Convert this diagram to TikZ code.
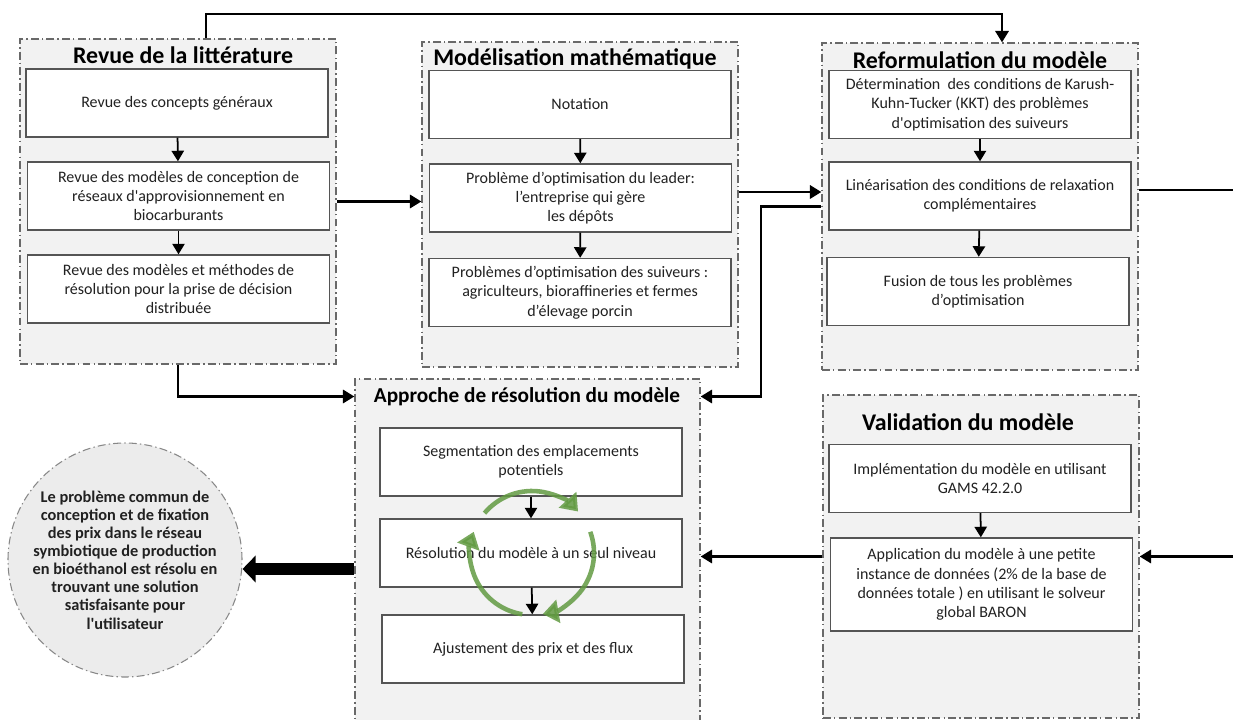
\documentclass[tikz,border=0pt]{standalone}
\usepackage{fontspec}
\setmainfont{Carlito}[Ligatures=TeXOff]
\usetikzlibrary{arrows.meta, positioning, calc}
\definecolor{panelgray}{RGB}{242,242,242}
\definecolor{circgray}{RGB}{236,236,236}
\definecolor{edgegray}{RGB}{105,105,105}
\definecolor{boxedge}{RGB}{85,85,85}
\definecolor{cyclegreen}{RGB}{98,155,66}

\begin{document}
\begin{tikzpicture}[
        every node/.style={font=\fontsize{9.1}{11}\selectfont, text=black!87},
        panel/.style={draw=edgegray, fill=panelgray, line width=0.7pt, dash pattern=on 4.5pt off 1.8pt on 0.8pt off 1.8pt, minimum width=6.32cm, minimum height=6.5cm, inner sep=0pt},
        ptitle/.style={font=\fontsize{13.6}{15}\selectfont\bfseries, text=black},
        stepbox/.style={draw=boxedge, fill=white, line width=0.8pt, minimum width=6.04cm, minimum height=1.36cm, align=center, inner sep=2pt},
        inarr/.style={-{Triangle[length=6pt,width=7pt]}, line width=1pt},
        conn/.style={-{Triangle[length=6.5pt,width=7.5pt]}, line width=1.5pt},
        plain/.style={line width=1.5pt},
        cyc/.style={-{Triangle[length=9pt,width=13pt]}, draw=cyclegreen, line width=2.6pt, opacity=0.85},
        bigarr/.style={-{Triangle[length=7.5pt,width=15pt]}, line width=6.5pt}
    ]
    \useasboundingbox (0,0) rectangle (24.66,-14.38);

    % Panels
    \node[panel] (lit) at (3.56,-4.03) {};
    \node[panel] (mod) at (11.6,-4.09) {};
    \node[panel, minimum height=6.54cm] (ref) at (19.6,-4.13) {};
    \node[panel, minimum width=6.9cm, minimum height=6.86cm] (res) at (10.55,-11.01) {};
    \node[panel, minimum height=6.46cm] (val) at (19.62,-11.13) {};

    % Panel titles
    \node[ptitle] (litT) at (3.66,-1.1) {Revue de la littérature};
    \node[ptitle] (modT) at (11.5,-1.18) {Modélisation mathématique};
    \node[ptitle] (refT) at (19.6,-1.2) {Reformulation du modèle};
    \node[ptitle, font=\fontsize{12.1}{14}\selectfont\bfseries] (resT) at (10.54,-7.93) {Approche de résolution du modèle};
    \node[ptitle] (valT) at (19.36,-8.44) {Validation du modèle};

    % Revue de la littérature
    \node[stepbox] (lit1) at (3.54,-2.06) {Revue des concepts généraux};
    \node[stepbox] (lit2) at (3.57,-3.92) {Revue des modèles de conception de\\réseaux d'approvisionnement en\\biocarburants};
    \node[stepbox] (lit3) at (3.57,-5.78) {Revue des modèles et méthodes de\\résolution pour la prise de décision\\distribuée};

    % Modélisation mathématique
    \node[stepbox] (mod1) at (11.6,-2.09) {Notation};
    \node[stepbox] (mod2) at (11.61,-3.96) {Problème d’optimisation du leader:\\l’entreprise qui gère\\les dépôts};
    \node[stepbox] (mod3) at (11.6,-5.85) {Problèmes d’optimisation des suiveurs :\\agriculteurs, bioraffineries et fermes\\d’élevage porcin};

    % Reformulation du modèle
    \node[stepbox] (ref1) at (19.6,-2.09) {Détermination\ \ des conditions de Karush-\\Kuhn-Tucker (KKT) des problèmes\\d'optimisation des suiveurs};
    \node[stepbox] (ref2) at (19.6,-3.92) {Linéarisation des conditions de relaxation\\complémentaires};
    \node[stepbox] (ref3) at (19.56,-5.83) {Fusion de tous les problèmes\\d’optimisation};

    % Approche de résolution
    \node[stepbox] (res1) at (10.62,-9.24) {Segmentation des emplacements\\potentiels};
    \node[stepbox] (res2) at (10.62,-11.06) {Résolution du modèle à un seul niveau};
    \node[stepbox] (res3) at (10.66,-12.98) {Ajustement des prix et des flux};

    % Validation du modèle
    \node[stepbox] (val1) at (19.6,-9.57) {Implémentation du modèle en utilisant\\GAMS 42.2.0};
    \node[stepbox, minimum height=1.86cm] (val2) at (19.63,-11.69) {Application du modèle à une petite\\instance de données (2\% de la base de\\données totale ) en utilisant le solveur\\global BARON};

    % Conclusion
    \node[circle, draw=edgegray!80, fill=circgray, line width=0.6pt, dash pattern=on 4.5pt off 1.8pt on 0.8pt off 1.8pt,
          minimum size=4.68cm, inner sep=0pt, align=center, font=\fontsize{9.3}{10.3}\selectfont\bfseries] (concl) at (2.5,-11.2)
          {Le problème commun de\\conception et de fixation\\des prix dans le réseau\\symbiotique de production\\en bioéthanol est résolu en\\trouvant une solution\\satisfaisante pour\\l'utilisateur};

    % Arrows inside panels
    \draw[inarr] (lit1) -- (lit2);
    \draw[inarr] (lit2) -- (lit3);
    \draw[inarr] (mod1) -- (mod2);
    \draw[inarr] (mod2) -- (mod3);
    \draw[inarr] (ref1) -- (ref2);
    \draw[inarr] (ref2) -- (ref3);
    \draw[inarr] (res1) -- (res2);
    \draw[inarr] (res2) -- (res3);
    \draw[inarr] (val1) -- (val2);

    % Iteration loop
    \coordinate (cyc) at (10.64,-11.06);
    \draw[cyc] ($(cyc)+(140:1.24)$) arc[start angle=140, end angle=42, radius=1.24cm];
    \draw[cyc] ($(cyc)+(20:1.24)$) arc[start angle=20, end angle=-80, radius=1.24cm];
    \draw[cyc] ($(cyc)+(-99:1.24)$) arc[start angle=-99, end angle=-200, radius=1.24cm];

    % Links between panels
    \coordinate (topY) at (0,-0.28);
    \coordinate (backX) at (15.22,0);
    \coordinate (edgeR) at (24.7,0);
    \draw[conn] ([xshift=0.56cm]lit.north) -- ([xshift=0.56cm]lit.north |- topY) -| ([xshift=0.44cm]ref.north);
    \draw[conn] (lit.east) -- (lit.east -| mod.west);
    \draw[conn] ([yshift=0.25cm]mod.east) -- ([yshift=0.25cm]mod.east -| ref.west);
    \draw[conn] (ref.west) -- (ref.west -| backX) |- (res.east |- resT);
    \draw[conn] (lit.south) |- (res.west |- resT);
    \draw[plain] ([yshift=0.33cm]ref.east) -- ([yshift=0.33cm]ref.east -| edgeR);
    \draw[conn] (val.east -| edgeR) -- (val.east);
    \draw[conn] (val.west) -- (val.west -| res.east);
    \draw[bigarr] ([yshift=-0.37cm]res.west) -- ([yshift=-0.18cm]concl.east);
\end{tikzpicture}
\end{document}
